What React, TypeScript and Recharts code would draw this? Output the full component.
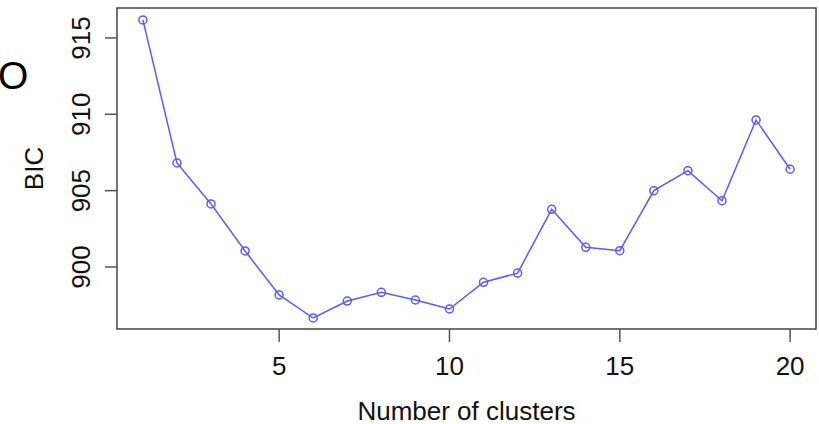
import { LineChart, Line, XAxis, YAxis, ReferenceArea, Label } from 'recharts';

document.body.style.margin = '0';

const clusters = [1, 2, 3, 4, 5, 6, 7, 8, 9, 10, 11, 12, 13, 14, 15, 16, 17, 18, 19, 20];
const bicValues = [
  916.18, 906.81, 904.13, 901.05, 898.17, 896.66, 897.77, 898.34, 897.84, 897.25,
  899.0, 899.6, 903.78, 901.29, 901.07, 905.0, 906.31, 904.34, 909.63, 906.4,
];
const xTicks = [5, 10, 15, 20];
const yTicks = [900, 905, 910, 915];

// R-style 4% padding around the data range
const X_DOMAIN: [number, number] = [0.24, 20.76];
const Y_DOMAIN: [number, number] = [895.94, 916.96];

const FONT = '"Liberation Sans", Arial, Helvetica, sans-serif';
const BLUE = '#5a5aff';

const data = clusters.map((k, i) => ({ k, bic: bicValues[i] }));

function YTick({ x, y, payload }: any) {
  return (
    <text
      x={x}
      y={y}
      transform={`rotate(-90, ${x}, ${y})`}
      textAnchor="middle"
      fontSize={26}
      fontFamily={FONT}
      fill="#111"
    >
      {payload.value}
    </text>
  );
}

export default function App() {
  return (
    <div style={{ position: 'relative', width: 819, height: 424, background: '#fff' }}>
      <div
        style={{
          position: 'absolute',
          left: -2,
          top: 56,
          fontSize: 39,
          lineHeight: '40px',
          fontFamily: FONT,
          color: '#000',
        }}
      >
        O
      </div>
      <LineChart
        width={819}
        height={424}
        data={data}
        margin={{ top: 8, right: 3, left: 0, bottom: 0 }}
      >
        <XAxis
          dataKey="k"
          type="number"
          domain={X_DOMAIN}
          ticks={xTicks}
          allowDataOverflow
          height={95}
          axisLine={false}
          tickSize={13}
          tickMargin={15}
          tickLine={{ stroke: '#555', strokeWidth: 1.5 }}
          tick={{ fontSize: 26, fontFamily: FONT, fill: '#111' }}
        >
          <Label
            value="Number of clusters"
            position="insideBottom"
            offset={4}
            style={{ fontSize: 26, fontFamily: FONT, fill: '#111' }}
          />
        </XAxis>
        <YAxis
          type="number"
          domain={Y_DOMAIN}
          ticks={yTicks}
          allowDataOverflow
          width={117}
          axisLine={false}
          tickSize={12}
          tickMargin={15}
          tickLine={{ stroke: '#555', strokeWidth: 1.5 }}
          tick={<YTick />}
        >
          <Label
            content={({ viewBox }: any) => {
              const cx = viewBox.x + 43;
              const cy = viewBox.y + viewBox.height / 2;
              return (
                <text
                  x={cx}
                  y={cy}
                  transform={`rotate(-90, ${cx}, ${cy})`}
                  textAnchor="middle"
                  fontSize={26}
                  fontFamily={FONT}
                  fill="#111"
                >
                  BIC
                </text>
              );
            }}
          />
        </YAxis>
        <ReferenceArea
          x1={X_DOMAIN[0]}
          x2={X_DOMAIN[1]}
          y1={Y_DOMAIN[0]}
          y2={Y_DOMAIN[1]}
          fill="none"
          stroke="#444"
          strokeWidth={1.5}
        />
        <Line
          dataKey="bic"
          stroke={BLUE}
          strokeWidth={1.5}
          dot={{ r: 4, stroke: BLUE, strokeWidth: 1.5, fill: 'none' }}
          activeDot={false}
          isAnimationActive={false}
        />
      </LineChart>
    </div>
  );
}
